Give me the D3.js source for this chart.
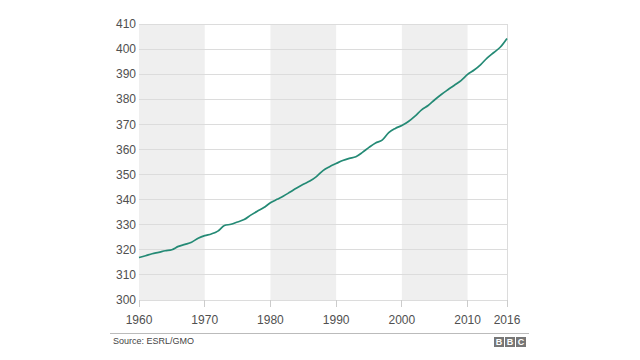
<!DOCTYPE html>
<html><head><meta charset="utf-8">
<script src="https://cdn.jsdelivr.net/npm/d3@7/dist/d3.min.js"></script>
<style>body{margin:0;background:#fff;}svg{display:block;}</style>
</head><body>
<svg id="c" width="640" height="360"></svg>
<script>
const years = d3.range(1960, 2017);
const co2 = [316.91,317.64,318.45,318.99,319.62,320.04,321.38,322.16,323.04,324.62,
325.68,326.32,327.45,329.68,330.18,331.11,332.04,333.83,335.40,336.84,
338.75,340.11,341.45,343.05,344.65,346.12,347.42,349.19,351.57,353.12,
354.39,355.61,356.45,357.10,358.83,360.82,362.61,363.73,366.70,368.38,
369.55,371.14,373.28,375.80,377.52,379.80,381.90,383.79,385.60,387.43,
389.90,391.65,393.85,396.52,398.65,400.83,404.24];
const xTicks = [1960,1970,1980,1990,2000,2010,2016];
const yTicks = [300,310,320,330,340,350,360,370,380,390,400,410];
const bands = [[1960,1970],[1980,1990],[2000,2010]];

const svg = d3.select("#c");
const x = d3.scaleLinear().domain([1960,2016]).range([139,507]);
const y = d3.scaleLinear().domain([300,410]).range([300,24]);
const font = "'Liberation Sans', Arial, sans-serif";

svg.selectAll("rect.band").data(bands).join("rect")
  .attr("x", d=>x(d[0])).attr("width", d=>x(d[1])-x(d[0]))
  .attr("y", y(410)).attr("height", y(300)-y(410))
  .attr("fill", "#efefef");

svg.selectAll("line.grid").data(yTicks).join("line")
  .attr("x1", x(1960)).attr("x2", x(2016))
  .attr("y1", d=>y(d)).attr("y2", d=>y(d))
  .attr("stroke", "#dcdcdc").attr("stroke-width", 1).attr("shape-rendering","crispEdges");

svg.append("line").attr("x1", x(2016)).attr("x2", x(2016))
  .attr("y1", y(410)).attr("y2", y(300))
  .attr("stroke", "#dcdcdc").attr("shape-rendering","crispEdges");

svg.selectAll("line.tick").data(xTicks).join("line")
  .attr("x1", d=>x(d)).attr("x2", d=>x(d))
  .attr("y1", y(300)).attr("y2", y(300)+7)
  .attr("stroke", "#cccccc").attr("shape-rendering","crispEdges");

svg.selectAll("text.yl").data(yTicks).join("text")
  .attr("x", 136).attr("y", d=>y(d)).attr("dy","0.35em")
  .attr("text-anchor","end").attr("font-family",font).attr("font-size",12)
  .attr("fill","#505050").text(d=>d);

svg.selectAll("text.xl").data(xTicks).join("text")
  .attr("x", d=>x(d)).attr("y", 320).attr("dy","0.35em")
  .attr("text-anchor","middle").attr("font-family",font).attr("font-size",12)
  .attr("fill","#505050").text(d=>d);

const line = d3.line().x((d,i)=>x(years[i])).y(d=>y(d)).curve(d3.curveMonotoneX);
svg.append("path").datum(co2).attr("d", line)
  .attr("fill","none").attr("stroke","#248a75").attr("stroke-width",1.7);

svg.append("line").attr("x1",110).attr("x2",529).attr("y1",333.5).attr("y2",333.5)
  .attr("stroke","#bbb").attr("stroke-width",1);

svg.append("text").attr("x",113).attr("y",341).attr("dy","0.35em")
  .attr("font-family",font).attr("font-size",9).attr("fill","#444")
  .text("Source: ESRL/GMO");

const logo = ["B","B","C"];
const lg = svg.append("g");
logo.forEach((l,i)=>{
  lg.append("rect").attr("x",494+i*11).attr("y",337).attr("width",10).attr("height",10).attr("fill","#777");
  lg.append("text").attr("x",499+i*11).attr("y",342).attr("dy","0.36em").attr("text-anchor","middle")
    .attr("font-family",font).attr("font-weight","bold").attr("font-size",9).attr("fill","#fff").text(l);
});
</script>
</body></html>
